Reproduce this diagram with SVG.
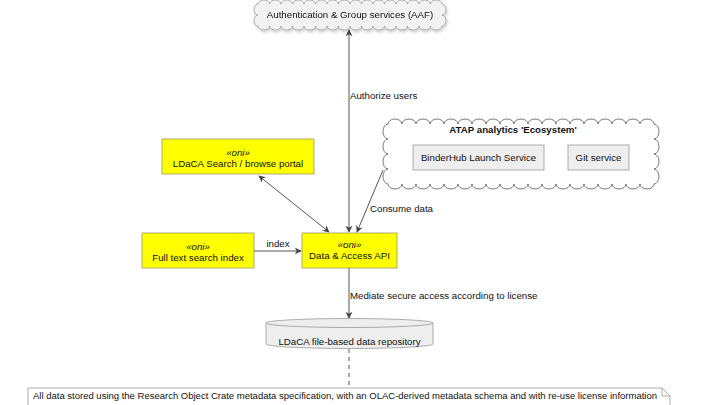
<svg xmlns="http://www.w3.org/2000/svg" width="720" height="405" viewBox="0 0 720 405">
<style>
text{font-family:"Liberation Sans",Arial,sans-serif;font-size:9.7px;fill:#111}
.c{text-anchor:middle}
.st{font-style:italic}
.b{font-weight:bold}
.node{fill:#ffff00;stroke:#9a9a6a;stroke-width:0.8}
.svc{fill:#eeeeee;stroke:#999;stroke-width:0.8}
.ln{stroke:#555;stroke-width:1;fill:none}
</style>
<defs>
<marker id="arr" viewBox="0 0 10 10" refX="9" refY="5" markerWidth="7" markerHeight="7" orient="auto-start-reverse" markerUnits="userSpaceOnUse">
<path d="M0,0 L10,5 L0,10 L3,5 Z" fill="#444"/>
</marker>
<filter id="sh" x="-10%" y="-30%" width="120%" height="160%">
<feGaussianBlur in="SourceAlpha" stdDeviation="1.5"/>
<feOffset dx="1" dy="2" result="o"/>
<feComponentTransfer><feFuncA type="linear" slope="0.2"/></feComponentTransfer>
<feMerge><feMergeNode/><feMergeNode in="SourceGraphic"/></feMerge>
</filter>
</defs>
<rect width="720" height="405" fill="#fff"/>

<g id="connectors">
<line class="ln" x1="349" y1="30" x2="349" y2="232" marker-start="url(#arr)" marker-end="url(#arr)"/>
<line class="ln" x1="259" y1="176" x2="329" y2="232" marker-start="url(#arr)" marker-end="url(#arr)"/>
<line class="ln" x1="383" y1="170" x2="357" y2="232" marker-end="url(#arr)"/>
<line class="ln" x1="254" y1="251" x2="301" y2="251" marker-end="url(#arr)"/>
<line class="ln" x1="349" y1="268" x2="349" y2="318" marker-end="url(#arr)"/>
<line class="ln" x1="349" y1="349" x2="349" y2="388" stroke-dasharray="4 4"/>
<text x="350" y="99">Authorize users</text>
<text x="370" y="212">Consume data</text>
<text class="c" x="278" y="247">index</text>
<text x="350" y="299">Mediate secure access according to license</text>
</g>

<g id="aaf" filter="url(#sh)">
<path fill="#f2f2f2" stroke="#999" stroke-width="0.8" d="M258,4 a5.75,4 0 0 1 11.5,0 a5.75,4 0 0 1 11.5,0 a5.75,4 0 0 1 11.5,0 a5.75,4 0 0 1 11.5,0 a5.75,4 0 0 1 11.5,0 a5.75,4 0 0 1 11.5,0 a5.75,4 0 0 1 11.5,0 a5.75,4 0 0 1 11.5,0 a5.75,4 0 0 1 11.5,0 a5.75,4 0 0 1 11.5,0 a5.75,4 0 0 1 11.5,0 a5.75,4 0 0 1 11.5,0 a5.75,4 0 0 1 11.5,0 a5.75,4 0 0 1 11.5,0 a5.75,4 0 0 1 11.5,0 a5.75,4 0 0 1 11.5,0 a4,5.5 0 0 1 0,11 a4,5.5 0 0 1 0,11 a5.75,4 0 0 1 -11.5,0 a5.75,4 0 0 1 -11.5,0 a5.75,4 0 0 1 -11.5,0 a5.75,4 0 0 1 -11.5,0 a5.75,4 0 0 1 -11.5,0 a5.75,4 0 0 1 -11.5,0 a5.75,4 0 0 1 -11.5,0 a5.75,4 0 0 1 -11.5,0 a5.75,4 0 0 1 -11.5,0 a5.75,4 0 0 1 -11.5,0 a5.75,4 0 0 1 -11.5,0 a5.75,4 0 0 1 -11.5,0 a5.75,4 0 0 1 -11.5,0 a5.75,4 0 0 1 -11.5,0 a5.75,4 0 0 1 -11.5,0 a5.75,4 0 0 1 -11.5,0 a4,5.5 0 0 1 0,-11 a4,5.5 0 0 1 0,-11 Z"/>
<text class="c" x="350" y="18">Authentication &amp; Group services (AAF)</text>
</g>

<g id="atap">
<path fill="#fff" stroke="#555" stroke-width="0.8" d="M388,124 a7,5 0 0 1 14,0 a7,5 0 0 1 14,0 a7,5 0 0 1 14,0 a7,5 0 0 1 14,0 a7,5 0 0 1 14,0 a7,5 0 0 1 14,0 a7,5 0 0 1 14,0 a7,5 0 0 1 14,0 a7,5 0 0 1 14,0 a7,5 0 0 1 14,0 a7,5 0 0 1 14,0 a7,5 0 0 1 14,0 a7,5 0 0 1 14,0 a7,5 0 0 1 14,0 a7,5 0 0 1 14,0 a7,5 0 0 1 14,0 a7,5 0 0 1 14,0 a7,5 0 0 1 14,0 a7,5 0 0 1 14,0 a5,7.5 0 0 1 0,15 a5,7.5 0 0 1 0,15 a5,7.5 0 0 1 0,15 a5,7.5 0 0 1 0,15 a7,5 0 0 1 -14,0 a7,5 0 0 1 -14,0 a7,5 0 0 1 -14,0 a7,5 0 0 1 -14,0 a7,5 0 0 1 -14,0 a7,5 0 0 1 -14,0 a7,5 0 0 1 -14,0 a7,5 0 0 1 -14,0 a7,5 0 0 1 -14,0 a7,5 0 0 1 -14,0 a7,5 0 0 1 -14,0 a7,5 0 0 1 -14,0 a7,5 0 0 1 -14,0 a7,5 0 0 1 -14,0 a7,5 0 0 1 -14,0 a7,5 0 0 1 -14,0 a7,5 0 0 1 -14,0 a7,5 0 0 1 -14,0 a7,5 0 0 1 -14,0 a5,7.5 0 0 1 0,-15 a5,7.5 0 0 1 0,-15 a5,7.5 0 0 1 0,-15 a5,7.5 0 0 1 0,-15 Z"/>
<text class="c b" x="513" y="133">ATAP analytics 'Ecosystem'</text>
</g>

<g id="binderhub">
<rect class="svc" x="413" y="145" width="131" height="25"/>
<text class="c" x="478.5" y="161">BinderHub Launch Service</text>
</g>

<g id="git">
<rect class="svc" x="568" y="145" width="61" height="25"/>
<text class="c" x="598.5" y="161">Git service</text>
</g>

<g id="portal">
<rect class="node" x="162" y="139" width="152" height="35"/>
<text class="c st" x="238" y="156">«oni»</text>
<text class="c" x="238" y="167">LDaCA Search / browse portal</text>
</g>

<g id="fulltext">
<rect class="node" x="142" y="233" width="112" height="35"/>
<text class="c st" x="198" y="250">«oni»</text>
<text class="c" x="198" y="261">Full text search index</text>
</g>

<g id="api">
<rect class="node" x="302" y="233" width="95" height="35"/>
<text class="c st" x="349.5" y="248">«oni»</text>
<text class="c" x="349.5" y="259">Data &amp; Access API</text>
</g>

<g id="repository">
<path fill="#eeeeee" stroke="#999" stroke-width="0.8" d="M266,323 a83.5,4.5 0 0 1 167,0 v21 a83.5,4.5 0 0 1 -167,0 Z"/>
<path fill="none" stroke="#999" stroke-width="0.8" d="M266,323 a83.5,4.5 0 0 0 167,0"/>
<text class="c" x="349.5" y="345">LDaCA file-based data repository</text>
</g>

<g id="note">
<path fill="#fff" stroke="#999" stroke-width="0.8" d="M28,388 H662 L670,396 V410 H28 Z"/>
<path fill="none" stroke="#999" stroke-width="0.8" d="M662,388 V396 H670"/>
<text x="33" y="399" textLength="624" lengthAdjust="spacingAndGlyphs">All data stored using the Research Object Crate metadata specification, with an OLAC-derived metadata schema and with re-use license information</text>
</g>
</svg>
